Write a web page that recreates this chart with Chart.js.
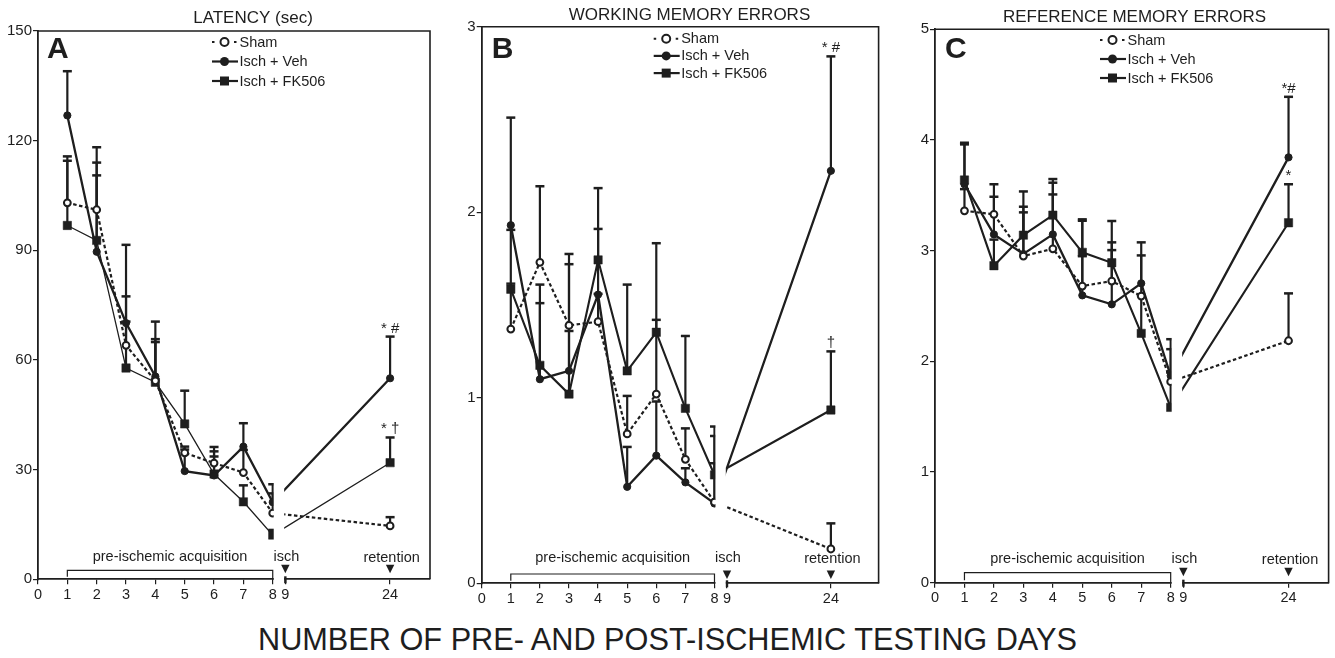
<!DOCTYPE html>
<html><head><meta charset="utf-8">
<script src="https://cdn.jsdelivr.net/npm/chart.js@4/dist/chart.umd.min.js"></script>
<style>
body{margin:0;background:#fff;width:1335px;height:658px;overflow:hidden;position:relative;font-family:"Liberation Sans",Arial,Helvetica,sans-serif}
.pane{position:absolute;top:0}
#xtitle{position:absolute;left:0;width:1335px;top:622px;line-height:36px;text-align:center;font-size:30.7px;color:#1e1e1e;white-space:nowrap}
</style></head><body>
<div class="pane" style="left:0px"><canvas id="cA" width="440" height="615"></canvas></div>
<div class="pane" style="left:440px"><canvas id="cB" width="445" height="615"></canvas></div>
<div class="pane" style="left:885px"><canvas id="cC" width="450" height="615"></canvas></div>
<div id="xtitle">NUMBER OF PRE- AND POST-ISCHEMIC TESTING DAYS</div>
<script>
// ---------------- DATA ----------------
const days = [1, 2, 3, 4, 5, 6, 7, 8, 24];
const tickDays = [0, 1, 2, 3, 4, 5, 6, 7, 8, 9, 24];
const tickLabels = ['0', '1', '2', '3', '4', '5', '6', '7', '8', '9', '24'];
const seriesNames = ['Sham', 'Isch + Veh', 'Isch + FK506'];
const panelTitles = ['LATENCY (sec)', 'WORKING MEMORY ERRORS', 'REFERENCE MEMORY ERRORS'];
const panelLetters = ['A', 'B', 'C'];
const phaseLabels = ['pre-ischemic acquisition', 'isch', 'retention'];

// Panel A: latency (sec) — means and top of error bars
const latSham    = [103.0, 101.1, 64.0, 54.3, 34.6, 31.8, 29.2, 18.1, 14.6];
const latShamErr = [115.7, 114.0, 77.4, 65.7, 36.3, 33.6, 35.4, 23.5, 17.0];
const latVeh     = [126.9, 89.6, 70.1, 55.5, 29.6, 28.4, 36.3, 21.1, 55.0];
const latVehErr  = [139.0, 118.2, 91.5, 70.5, 35.5, 36.2, 42.7, 26.0, 66.4];
const latFK      = [96.8, 92.7, 57.8, 53.9, 42.5, 28.8, 21.2, 12.1, 31.9];
const latFKErr   = [114.5, 110.5, 70.5, 64.9, 51.6, 35.0, 25.7, 13.5, 38.8];
const latMarks   = ['', '* #', '* \u2020'];

// Panel B: working memory errors
const wmSham    = [1.37, 1.73, 1.39, 1.41, 0.805, 1.02, 0.668, 0.437, 0.185];
const wmShamErr = [1.615, 2.14, 1.775, 1.56, 1.01, 1.42, 0.835, 0.647, 0.323];
const wmVeh     = [1.93, 1.10, 1.145, 1.556, 0.52, 0.688, 0.544, 0.43, 2.223];
const wmVehErr  = [2.51, 1.51, 1.72, 1.91, 0.735, 0.98, 0.62, 0.794, 2.84];
const wmFK      = [1.585, 1.175, 1.02, 1.743, 1.145, 1.353, 0.943, 0.584, 0.934];
const wmFKErr   = [1.905, 1.61, 1.36, 2.13, 1.61, 1.833, 1.333, 0.845, 1.25];
const wmMarks   = ['', '* #', '\u2020'];

// Panel C: reference memory errors
const rmSham    = [3.36, 3.328, 2.951, 3.017, 2.68, 2.725, 2.59, 1.816, 2.186];
const rmShamErr = [3.556, 3.6, 3.346, 3.508, 2.95, 3.075, 2.957, 2.11, 2.614];
const rmVeh     = [3.6, 3.147, 2.97, 3.147, 2.596, 2.515, 2.705, 1.87, 3.843];
const rmVehErr  = [3.975, 3.487, 3.397, 3.614, 3.27, 3.005, 3.075, 2.2, 4.39];
const rmFK      = [3.638, 2.864, 3.14, 3.321, 2.985, 2.891, 2.253, 1.584, 3.252];
const rmFKErr   = [3.96, 3.1, 3.535, 3.647, 3.283, 3.268, 2.6, 1.9, 3.6];
const rmMarks   = ['', '*#', '*'];

// ---------------- AXIS TRANSFORM (broken x axis) ----------------
const BREAK_POS = {9: 8.43, 24: 12.0};
function dayPos(d) { return d <= 8 ? d : BREAK_POS[d]; }

// ---------------- STYLE ----------------
const INK = '#1e1e1e';
const FONT = '"Liberation Sans", Arial, Helvetica, sans-serif';
Chart.defaults.font.family = FONT;
Chart.defaults.color = INK;

function makePanel(id, idx, p) {
  const series = [
    {vals: p.sham, err: p.shamErr},
    {vals: p.veh, err: p.vehErr},
    {vals: p.fk, err: p.fkErr}
  ];
  const pts = arr => days.map((d, i) => ({x: dayPos(d), y: arr[i]}));
  const datasets = [
    {label: seriesNames[0], data: pts(p.sham), borderColor: INK, borderWidth: 2.2, borderDash: [3.5, 2.5],
     pointStyle: 'circle', pointRadius: 3.4, pointBorderWidth: 2, pointBackgroundColor: '#fff', pointBorderColor: INK, tension: 0},
    {label: seriesNames[1], data: pts(p.veh), borderColor: INK, borderWidth: 2.3,
     pointStyle: 'circle', pointRadius: 3.6, pointBorderWidth: 1, pointBackgroundColor: INK, pointBorderColor: INK, tension: 0},
    {label: seriesNames[2], data: pts(p.fk), borderColor: INK, borderWidth: p.fkWidth,
     pointStyle: 'rect', pointRadius: 5.9, pointBorderWidth: 0.5, pointBackgroundColor: INK, pointBorderColor: INK, tension: 0}
  ];

  const deco = {
    id: 'deco' + idx,
    beforeDatasetsDraw(chart) {
      const {ctx, scales: {x, y}} = chart;
      ctx.save();
      ctx.strokeStyle = INK;
      series.forEach(s => {
        s.vals.forEach((v, i) => {
          const px = x.getPixelForValue(dayPos(days[i]));
          const y0 = y.getPixelForValue(v), y1 = y.getPixelForValue(s.err[i]);
          ctx.lineWidth = 2.2;
          ctx.beginPath(); ctx.moveTo(px, y0); ctx.lineTo(px, y1); ctx.stroke();
          ctx.lineWidth = 2.5;
          ctx.beginPath(); ctx.moveTo(px - 4.5, y1); ctx.lineTo(px + 4.5, y1); ctx.stroke();
        });
      });
      ctx.restore();
    },
    afterDatasetsDraw(chart) {
      const {ctx, chartArea: a, scales: {x, y}} = chart;
      const x8 = x.getPixelForValue(dayPos(8)), x9 = x.getPixelForValue(dayPos(9));
      const x1 = x.getPixelForValue(dayPos(1)), x24 = x.getPixelForValue(dayPos(24));
      ctx.save();
      // axis break gap
      ctx.fillStyle = '#fff';
      ctx.fillRect(x8 + 1, a.top + 1.5, (x9 - 1.2) - (x8 + 1), a.bottom - a.top + 0.5);
      // frame top & right
      ctx.strokeStyle = INK; ctx.lineWidth = 1.6;
      ctx.beginPath(); ctx.moveTo(a.left, a.top); ctx.lineTo(a.right, a.top); ctx.lineTo(a.right, a.bottom); ctx.stroke();
      // break marks
      ctx.lineWidth = 2.4;
      ctx.beginPath(); ctx.moveTo(x9, a.bottom - 3); ctx.lineTo(x9, a.bottom + 4); ctx.stroke();
      // bracket over pre-ischemic days
      ctx.lineWidth = 1.2;
      const by = a.bottom - p.bracketOff;
      ctx.beginPath();
      ctx.moveTo(x1, a.bottom - 2.5); ctx.lineTo(x1, by); ctx.lineTo(x8, by); ctx.lineTo(x8, a.bottom + 1);
      ctx.stroke();
      // triangles
      ctx.fillStyle = INK;
      [x9, x24].forEach(tx => {
        ctx.beginPath();
        ctx.moveTo(tx - 4.2, a.bottom - p.triTop); ctx.lineTo(tx + 4.2, a.bottom - p.triTop); ctx.lineTo(tx, a.bottom - p.triTop + 8.5);
        ctx.closePath(); ctx.fill();
      });
      // phase labels
      ctx.textAlign = 'center'; ctx.textBaseline = 'middle';
      ctx.font = '14.5px ' + FONT;
      ctx.fillText(phaseLabels[0], (x1 + x8) / 2, a.bottom - p.textOff);
      ctx.fillText(phaseLabels[1], x9 + 1, a.bottom - p.textOff);
      ctx.fillText(phaseLabels[2], x24 + 1.5, a.bottom - p.textOff + 1);
      // significance marks at day 24
      ctx.font = '15px ' + FONT; ctx.textBaseline = 'alphabetic';
      p.marks.forEach((m, si) => {
        if (!m) return;
        const yy = y.getPixelForValue(series[si].err[days.length - 1]);
        ctx.fillText(m, x24, yy - 4);
      });
      // title
      ctx.font = '17px ' + FONT; ctx.textBaseline = 'middle';
      ctx.fillText(panelTitles[idx], p.titleX, p.titleY);
      // panel letter
      ctx.font = 'bold 30px ' + FONT; ctx.textAlign = 'left'; ctx.textBaseline = 'alphabetic';
      ctx.fillText(panelLetters[idx], a.left + p.letterDx, a.top + p.letterDy);
      // legend
      const lx = a.left + p.legDx;
      ctx.font = '14.5px ' + FONT; ctx.textBaseline = 'middle';
      for (let k = 0; k < 3; k++) {
        const ly = a.top + p.legDy + k * p.legGap;
        ctx.strokeStyle = INK; ctx.fillStyle = INK;
        if (k === 0) {
          ctx.lineWidth = 2;
          ctx.beginPath(); ctx.moveTo(lx, ly); ctx.lineTo(lx + 2.5, ly); ctx.moveTo(lx + 22, ly); ctx.lineTo(lx + 24.5, ly); ctx.stroke();
          ctx.beginPath(); ctx.arc(lx + 12.5, ly, 4, 0, Math.PI * 2); ctx.fillStyle = '#fff'; ctx.fill(); ctx.stroke();
          ctx.fillStyle = INK;
        } else {
          ctx.lineWidth = 2.2;
          ctx.beginPath(); ctx.moveTo(lx, ly); ctx.lineTo(lx + 26, ly); ctx.stroke();
          if (k === 1) { ctx.beginPath(); ctx.arc(lx + 12.5, ly, 4.5, 0, Math.PI * 2); ctx.fill(); }
          else { ctx.fillRect(lx + 8, ly - 4.5, 9, 9); }
        }
        ctx.fillText(seriesNames[k], lx + 27.5, ly + 0.5);
      }
      ctx.restore();
    }
  };

  return new Chart(document.getElementById(id), {
    type: 'line',
    data: {datasets},
    options: {
      responsive: false, animation: false, devicePixelRatio: 1,
      layout: {padding: {left: 0, right: p.padR, top: p.padT, bottom: p.padB}},
      plugins: {legend: {display: false}, tooltip: {enabled: false}, title: {display: false}},
      elements: {line: {borderJoinStyle: 'miter'}},
      scales: {
        x: {
          type: 'linear', min: 0, max: p.xMax,
          afterBuildTicks: s => { s.ticks = tickDays.map(d => ({value: dayPos(d)})); },
          afterFit: s => { s.height = 30; },
          ticks: {autoSkip: false, maxRotation: 0, padding: 2, font: {size: 14.5}, color: INK,
                  callback: (v, i) => tickLabels[i]},
          grid: {drawOnChartArea: false, drawTicks: true, tickLength: 5, color: INK, lineWidth: 1.2},
          border: {display: true, color: INK, width: 1.8}
        },
        y: {
          min: 0, max: p.yMax,
          afterFit: s => { s.width = p.yW; },
          ticks: {stepSize: p.yStep, padding: 1, font: {size: 15}, color: INK},
          grid: {drawOnChartArea: false, drawTicks: true, tickLength: 5, color: INK, lineWidth: 1.2},
          border: {display: true, color: INK, width: 1.8}
        }
      }
    },
    plugins: [deco]
  });
}

makePanel('cA', 0, {
  sham: latSham, shamErr: latShamErr, veh: latVeh, vehErr: latVehErr, fk: latFK, fkErr: latFKErr, marks: latMarks,
  fkWidth: 1.3, yMax: 150, yStep: 30, xMax: 13.36, yW: 38, padR: 10, padT: 31, padB: 5.7,
  titleX: 253, titleY: 18, letterDx: 9, letterDy: 27, legDx: 174, legDy: 11, legGap: 19.5,
  bracketOff: 9, triTop: 14.5, textOff: 22
});
makePanel('cB', 1, {
  sham: wmSham, shamErr: wmShamErr, veh: wmVeh, vehErr: wmVehErr, fk: wmFK, fkErr: wmFKErr, marks: wmMarks,
  fkWidth: 2.1, yMax: 3, yStep: 1, xMax: 13.64, yW: 41.7, padR: 4, padT: 26.7, padB: 1.7,
  titleX: 249.5, titleY: 15, letterDx: 10, letterDy: 31.6, legDx: 172, legDy: 12, legGap: 17.2,
  bracketOff: 9.3, triTop: 12.8, textOff: 25
});
makePanel('cC', 2, {
  sham: rmSham, shamErr: rmShamErr, veh: rmVeh, vehErr: rmVehErr, fk: rmFK, fkErr: rmFKErr, marks: rmMarks,
  fkWidth: 2.1, yMax: 5, yStep: 1, xMax: 13.36, yW: 50, padR: 4.7, padT: 29.3, padB: 2.3,
  titleX: 249.5, titleY: 17.3, letterDx: 10, letterDy: 28.7, legDx: 165, legDy: 10.7, legGap: 19,
  bracketOff: 10, triTop: 15, textOff: 24
});
</script>
</body></html>
